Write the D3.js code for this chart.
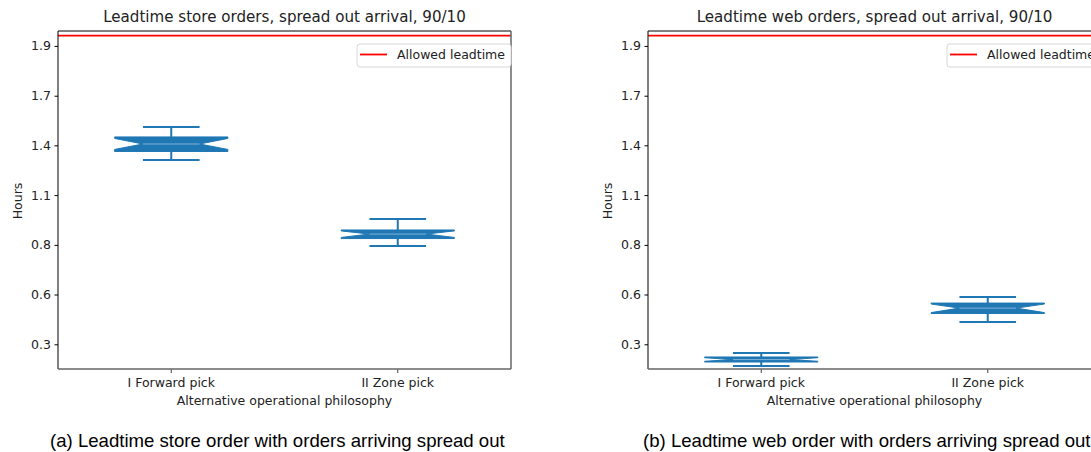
<!DOCTYPE html>
<html>
<head>
<meta charset="utf-8">
<script src="https://cdn.jsdelivr.net/npm/d3@7"></script>
<style>
  body { margin: 0; background: #fff; overflow: hidden; }
  svg { display: block; }
</style>
</head>
<body>
<svg id="fig" width="1091" height="452"></svg>
<script>
// values (hours)
var categories = ["I Forward pick", "II Zone pick"];
// order of each row: whisker low, q1, notch low, median, notch high, q3, whisker high
var storeLeadtime = [
  [1.288, 1.334, 1.345, 1.374, 1.404, 1.412, 1.465],
  [0.827, 0.867, 0.873, 0.891, 0.908, 0.913, 0.972]
];
var webLeadtime = [
  [0.183, 0.205, 0.209, 0.218, 0.228, 0.232, 0.253],
  [0.419, 0.465, 0.470, 0.494, 0.516, 0.521, 0.553]
];
var allowedLeadtime = 1.955;
var yTicks = [0.3, 0.567, 0.833, 1.1, 1.367, 1.633, 1.9];
var yTickLabels = ["0.3", "0.6", "0.8", "1.1", "1.4", "1.7", "1.9"];
var yDomain = [0.1675, 1.98];
var titles = ["Leadtime store orders, spread out arrival, 90/10",
              "Leadtime web orders, spread out arrival, 90/10"];
var captions = ["(a) Leadtime store order with orders arriving spread out",
                "(b) Leadtime web order with orders arriving spread out"];

var svg = d3.select("#fig"),
  plotW = 453,
  plotTop = 31,
  plotBottom = 369,
  blue = "#1f77b4",
  font = "DejaVu Sans, sans-serif";

svg.append("rect").attr("width", 1091).attr("height", 452).attr("fill", "#fff");

var x = d3.scaleBand().domain(categories).range([0, plotW]);
var y = d3.scaleLinear().domain(yDomain).range([plotBottom, plotTop]);

function toStats(row) {
  return {whislo: row[0], q1: row[1], cilo: row[2], med: row[3], cihi: row[4], q3: row[5], whishi: row[6]};
}

// notched box outline the same way matplotlib builds it
function boxPath(s, cx, w) {
  var L = cx - w / 2, R = cx + w / 2, nl = cx - w / 4, nr = cx + w / 4;
  var pts = [[L, s.q1], [R, s.q1], [R, s.cilo], [nr, s.med], [R, s.cihi], [R, s.q3],
             [L, s.q3], [L, s.cihi], [nl, s.med], [L, s.cilo], [L, s.q1]];
  return d3.line()(pts.map(function(p) { return [p[0], y(p[1])]; }));
}

function drawPanel(x0, data, title, caption, captionX) {
  var g = svg.append("g").attr("transform", "translate(" + x0 + ",0)");

  // y axis
  var ya = g.append("g")
    .call(d3.axisLeft(y).tickValues(yTicks)
      .tickFormat(function(d, i) { return yTickLabels[i]; })
      .tickSize(3.5).tickPadding(3.5));
  ya.select(".domain").remove();
  ya.selectAll("line").attr("stroke", "#000");
  ya.selectAll("text").attr("font-family", font).attr("font-size", 12.5).attr("fill", "#222");

  // x axis
  var xa = g.append("g").attr("transform", "translate(0," + plotBottom + ")")
    .call(d3.axisBottom(x).tickSize(4).tickPadding(5.5));
  xa.select(".domain").remove();
  xa.selectAll("line").attr("stroke", "#444");
  xa.selectAll("text").attr("font-family", font).attr("font-size", 12.5).attr("fill", "#222");

  // allowed leadtime line
  g.append("line")
    .attr("x1", 0).attr("x2", plotW)
    .attr("y1", y(allowedLeadtime)).attr("y2", y(allowedLeadtime))
    .attr("stroke", "#ff0000").attr("stroke-width", 1.8);

  var bw = x.bandwidth() * 0.5;
  var boxes = g.selectAll(".box").data(data.map(toStats)).enter().append("g").attr("class", "box");
  boxes.each(function(s, i) {
    var b = d3.select(this), cx = x(categories[i]) + x.bandwidth() / 2;
    b.append("line").attr("x1", cx).attr("x2", cx).attr("y1", y(s.q3)).attr("y2", y(s.whishi))
      .attr("stroke", blue).attr("stroke-width", 2);
    b.append("line").attr("x1", cx).attr("x2", cx).attr("y1", y(s.q1)).attr("y2", y(s.whislo))
      .attr("stroke", blue).attr("stroke-width", 2);
    [s.whishi, s.whislo].forEach(function(v) {
      b.append("line").attr("x1", cx - bw / 4).attr("x2", cx + bw / 4)
        .attr("y1", y(v)).attr("y2", y(v))
        .attr("stroke", blue).attr("stroke-width", 2);
    });
    b.append("path").attr("d", boxPath(s, cx, bw))
      .attr("fill", blue).attr("fill-rule", "nonzero")
      .attr("stroke", blue).attr("stroke-width", 1);
    b.append("line").attr("x1", cx - bw / 4).attr("x2", cx + bw / 4)
      .attr("y1", y(s.med)).attr("y2", y(s.med))
      .attr("stroke", "#7fb2da").attr("stroke-width", 1);
  });

  // spines
  g.append("line").attr("x1", 0).attr("x2", plotW).attr("y1", plotTop).attr("y2", plotTop).attr("stroke", "#000");
  g.append("line").attr("x1", 0).attr("x2", 0).attr("y1", plotTop).attr("y2", plotBottom).attr("stroke", "#000");
  g.append("line").attr("x1", 0).attr("x2", plotW).attr("y1", plotBottom).attr("y2", plotBottom).attr("stroke", "#666").attr("stroke-width", 1.5);
  g.append("line").attr("x1", plotW).attr("x2", plotW).attr("y1", plotTop).attr("y2", plotBottom).attr("stroke", "#666").attr("stroke-width", 1.5);

  // legend
  var lg = g.append("g").attr("transform", "translate(299,44)");
  lg.append("rect").attr("width", 154).attr("height", 23).attr("rx", 3)
    .attr("fill", "#fff").attr("stroke", "#d6d6d6");
  lg.append("line").attr("x1", 3).attr("x2", 30).attr("y1", 10.5).attr("y2", 10.5)
    .attr("stroke", "#ff0000").attr("stroke-width", 1.8);
  lg.append("text").attr("x", 40).attr("y", 15).text("Allowed leadtime")
    .attr("font-family", font).attr("font-size", 12.5).attr("fill", "#222");

  // titles and labels
  g.append("text").attr("x", plotW / 2).attr("y", 22).attr("text-anchor", "middle")
    .attr("font-family", font).attr("font-size", 15.1).attr("fill", "#222").text(title);
  g.append("text").attr("x", plotW / 2).attr("y", 405).attr("text-anchor", "middle")
    .attr("font-family", font).attr("font-size", 12.5).attr("fill", "#222")
    .text("Alternative operational philosophy");
  g.append("text").attr("transform", "translate(-36,201) rotate(-90)").attr("text-anchor", "middle")
    .attr("font-family", font).attr("font-size", 12.5).attr("fill", "#222").text("Hours");

  svg.append("text").attr("x", captionX).attr("y", 447)
    .attr("font-family", "Liberation Sans, Arial, sans-serif").attr("font-size", 18.6)
    .attr("fill", "#000").text(caption);
}

drawPanel(58, storeLeadtime, titles[0], captions[0], 50);
drawPanel(648, webLeadtime, titles[1], captions[1], 643);
</script>
</body>
</html>
